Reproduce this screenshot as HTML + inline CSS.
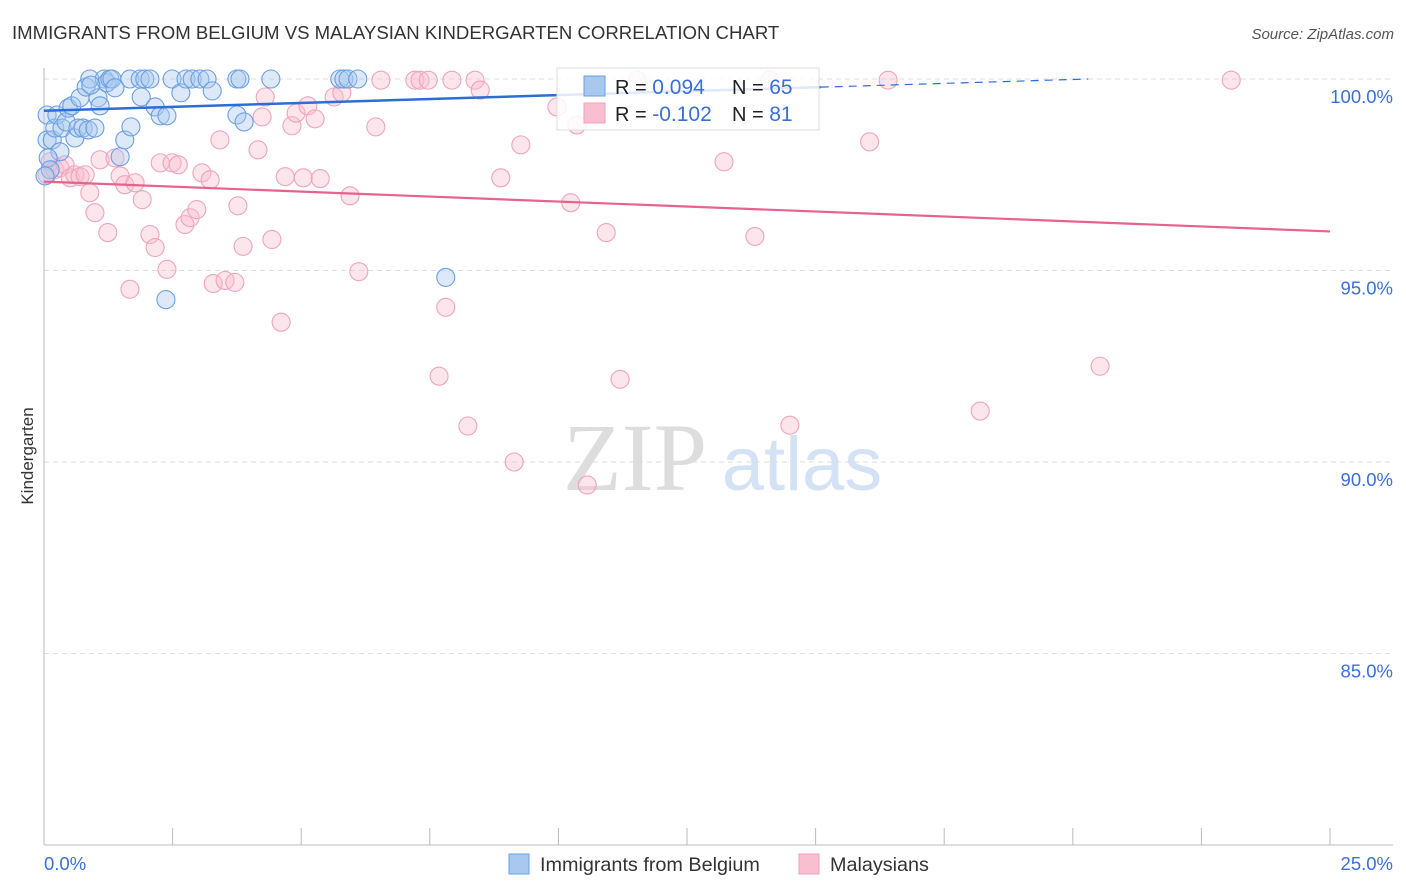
<!DOCTYPE html>
<html><head><meta charset="utf-8"><style>
body{margin:0;background:#fff;font-family:"Liberation Sans",sans-serif;}
svg{display:block}
</style></head><body>
<svg id="chart" width="1406" height="892" xmlns="http://www.w3.org/2000/svg">
<text x="12" y="39" font-size="18.6" fill="#333">IMMIGRANTS FROM BELGIUM VS MALAYSIAN KINDERGARTEN CORRELATION CHART</text>
<text x="1394" y="39" font-size="15" fill="#555" font-style="italic" text-anchor="end">Source: ZipAtlas.com</text>
<text x="33" y="456" font-size="17" fill="#333" text-anchor="middle" transform="rotate(-90 33 456)">Kindergarten</text>
<g>
<text x="635" y="490" font-size="96" fill="#ddd" font-family="Liberation Serif,serif" text-anchor="middle">ZIP</text>
<text x="802" y="490" font-size="76" fill="#d4e2f5" text-anchor="middle">atlas</text>
</g>
<g id="grid"></g><g id="axes"></g><g id="pts"></g><g id="lines"></g>
<g>
<rect x="557" y="68" width="262" height="62" fill="#fff" fill-opacity="0.85" stroke="#ddd"/>
<rect x="584" y="76" width="21" height="20" fill="#a9c8f0" stroke="#6a9fe0"/>
<rect x="584" y="103" width="21" height="20" fill="#f9bfd0" stroke="#f0a0b8"/>
<text x="615" y="94" font-size="20" fill="#222">R = <tspan fill="#3a6fd8" font-size="21">0.094</tspan><tspan x="732">N = </tspan><tspan fill="#3a6fd8" font-size="21">65</tspan></text>
<text x="615" y="121" font-size="20" fill="#222">R = <tspan fill="#3a6fd8" font-size="21">-0.102</tspan><tspan x="732">N = </tspan><tspan fill="#3a6fd8" font-size="21"> 81</tspan></text>
</g>
<g>
<rect x="509" y="854" width="20" height="20" fill="#a9c8f0" stroke="#6a9fe0"/>
<text x="540" y="871" font-size="19.8" fill="#333">Immigrants from Belgium</text>
<rect x="799" y="854" width="20" height="20" fill="#f9bfd0" stroke="#f0a0b8"/>
<text x="830" y="871" font-size="19.8" fill="#333">Malaysians</text>
</g>
</svg>
<script>
const blueX=[0.06,0.06,0.16,0.21,0.25,0.31,0.35,0.43,0.47,0.54,0.60,0.66,0.70,0.76,0.82,0.86,0.89,0.99,1.05,1.09,1.17,1.22,1.28,1.32,1.38,1.48,1.57,1.67,1.69,1.87,1.89,1.96,2.06,2.16,2.26,2.39,2.49,2.66,2.76,2.88,3.03,3.17,3.27,3.75,3.81,3.75,3.89,4.41,5.75,5.83,5.91,6.10,2.37,7.81,0.91,0.08,0.12,0.02];
const blueY=[98.41,99.06,98.41,98.72,99.06,98.10,98.72,98.88,99.24,99.30,98.46,98.72,99.51,98.72,99.79,98.67,100,98.72,99.51,99.30,100,99.90,100,100,99.77,97.97,98.41,100,98.75,100,99.53,100,100,99.27,99.04,99.04,100,99.64,100,100,100,100,99.69,100,100,99.06,98.88,100,100,100,100,100,94.24,94.82,99.84,97.94,97.63,97.47];
const pinkX=[0.06,0.12,0.21,0.31,0.41,0.51,0.60,0.70,0.80,0.89,0.99,1.09,1.24,1.38,1.48,1.57,1.67,1.77,1.91,2.06,2.16,2.26,2.39,2.49,2.61,2.74,2.84,2.97,3.07,3.23,3.29,3.42,3.52,3.71,3.77,3.87,4.16,4.24,4.30,4.43,4.61,4.69,4.82,4.90,5.04,5.13,5.27,5.37,5.64,5.79,5.95,6.12,6.45,6.55,7.21,7.31,7.47,7.68,7.81,7.93,8.24,8.38,8.48,8.88,9.14,9.27,9.97,10.24,10.36,10.56,10.93,11.2,11.53,13.22,13.82,14.5,16.05,16.41,18.2,20.53,23.08,14.11];
const pinkY=[97.5,97.84,97.63,97.68,97.76,97.42,97.5,97.45,97.5,97.03,96.51,97.89,95.99,97.94,97.47,97.24,94.51,97.29,96.85,95.94,95.60,97.81,95.03,97.81,97.76,96.20,96.38,96.59,97.55,97.37,94.66,98.41,94.74,94.69,96.69,95.63,98.15,99.01,99.53,95.81,93.65,97.45,98.78,99.11,97.42,99.30,98.96,97.40,99.53,99.64,96.95,94.97,98.75,99.97,99.97,99.97,99.97,92.24,94.04,99.97,90.94,99.97,99.71,97.42,90.0,98.28,99.27,96.77,98.80,89.40,95.99,92.16,99.97,97.84,95.89,90.96,98.36,99.97,91.33,92.5,99.97,99.97];
const yTicks=[100,95,90,85];
const yTickLabels=["100.0%","95.0%","90.0%","85.0%"];
const xEndLabels=["0.0%","25.0%"];
const blueTrend=[99.17,100.0];   // y at x=0 and x=20.3
const pinkTrend=[97.32,96.02];   // y at x=0 and x=25
const NS="http://www.w3.org/2000/svg";
const X0=44,X1=1330,Y0=79,Y1=845;
const sx=v=>X0+v/25*(X1-X0);
const sy=v=>Y0+(100-v)/20*(Y1-Y0);
function mk(t,a,p){const e=document.createElementNS(NS,t);for(const k in a)e.setAttribute(k,a[k]);document.getElementById(p).appendChild(e);return e;}
yTicks.forEach((t,i)=>{
 const g=mk('line',{x1:X0,x2:1393,y1:sy(t),y2:sy(t),stroke:'#ddd','stroke-dasharray':'5,4'},'grid');
 
 
 const l=mk('text',{x:1393,y:sy(t)+24,'font-size':18.5,fill:'#3a6fd8','text-anchor':'end'},'axes');
 l.textContent=yTickLabels[i];
 
 
});
let a=mk('line',{x1:X0,x2:X0,y1:68,y2:Y1,stroke:'#bbb'},'axes');


a=mk('line',{x1:X0,x2:1393,y1:Y1,y2:Y1,stroke:'#bbb'},'axes');


for(let i=0;i<=10;i++){const t=mk('line',{x1:sx(i*2.5),x2:sx(i*2.5),y1:828,y2:Y1,stroke:'#bbb'},'axes');
 
 }
let t0=mk('text',{x:X0,y:870,'font-size':18.5,fill:'#3a6fd8'},'axes');t0.textContent=xEndLabels[0];


let t1=mk('text',{x:1393,y:870,'font-size':18.5,fill:'#3a6fd8','text-anchor':'end'},'axes');t1.textContent=xEndLabels[1];


pinkX.forEach((v,i)=>{const c=mk('circle',{cx:sx(v),cy:sy(pinkY[i]),r:9,fill:'#f9bfd0','fill-opacity':0.4,stroke:'#eea4bc','stroke-width':1.1},'pts');
 
 });
blueX.forEach((v,i)=>{const c=mk('circle',{cx:sx(v),cy:sy(blueY[i]),r:9,fill:'#a9c8f0','fill-opacity':0.4,stroke:'#6a9fe0','stroke-width':1.1},'pts');
 
 });
const bY=x=>blueTrend[0]+(blueTrend[1]-blueTrend[0])*x/20.3;
let l1=mk('line',{x1:sx(0),y1:sy(bY(0)),x2:sx(15.1),y2:sy(bY(15.1)),stroke:'#2a6fd6','stroke-width':2.5},'lines');


let l2=mk('line',{x1:sx(15.1),y1:sy(bY(15.1)),x2:sx(20.3),y2:sy(bY(20.3)),stroke:'#2a6fd6','stroke-width':1.2,'stroke-dasharray':'8,6'},'lines');


let l3=mk('line',{x1:sx(0),y1:sy(pinkTrend[0]),x2:sx(25),y2:sy(pinkTrend[1]),stroke:'#e8628d','stroke-width':2.2},'lines');


</script>
</body></html>
